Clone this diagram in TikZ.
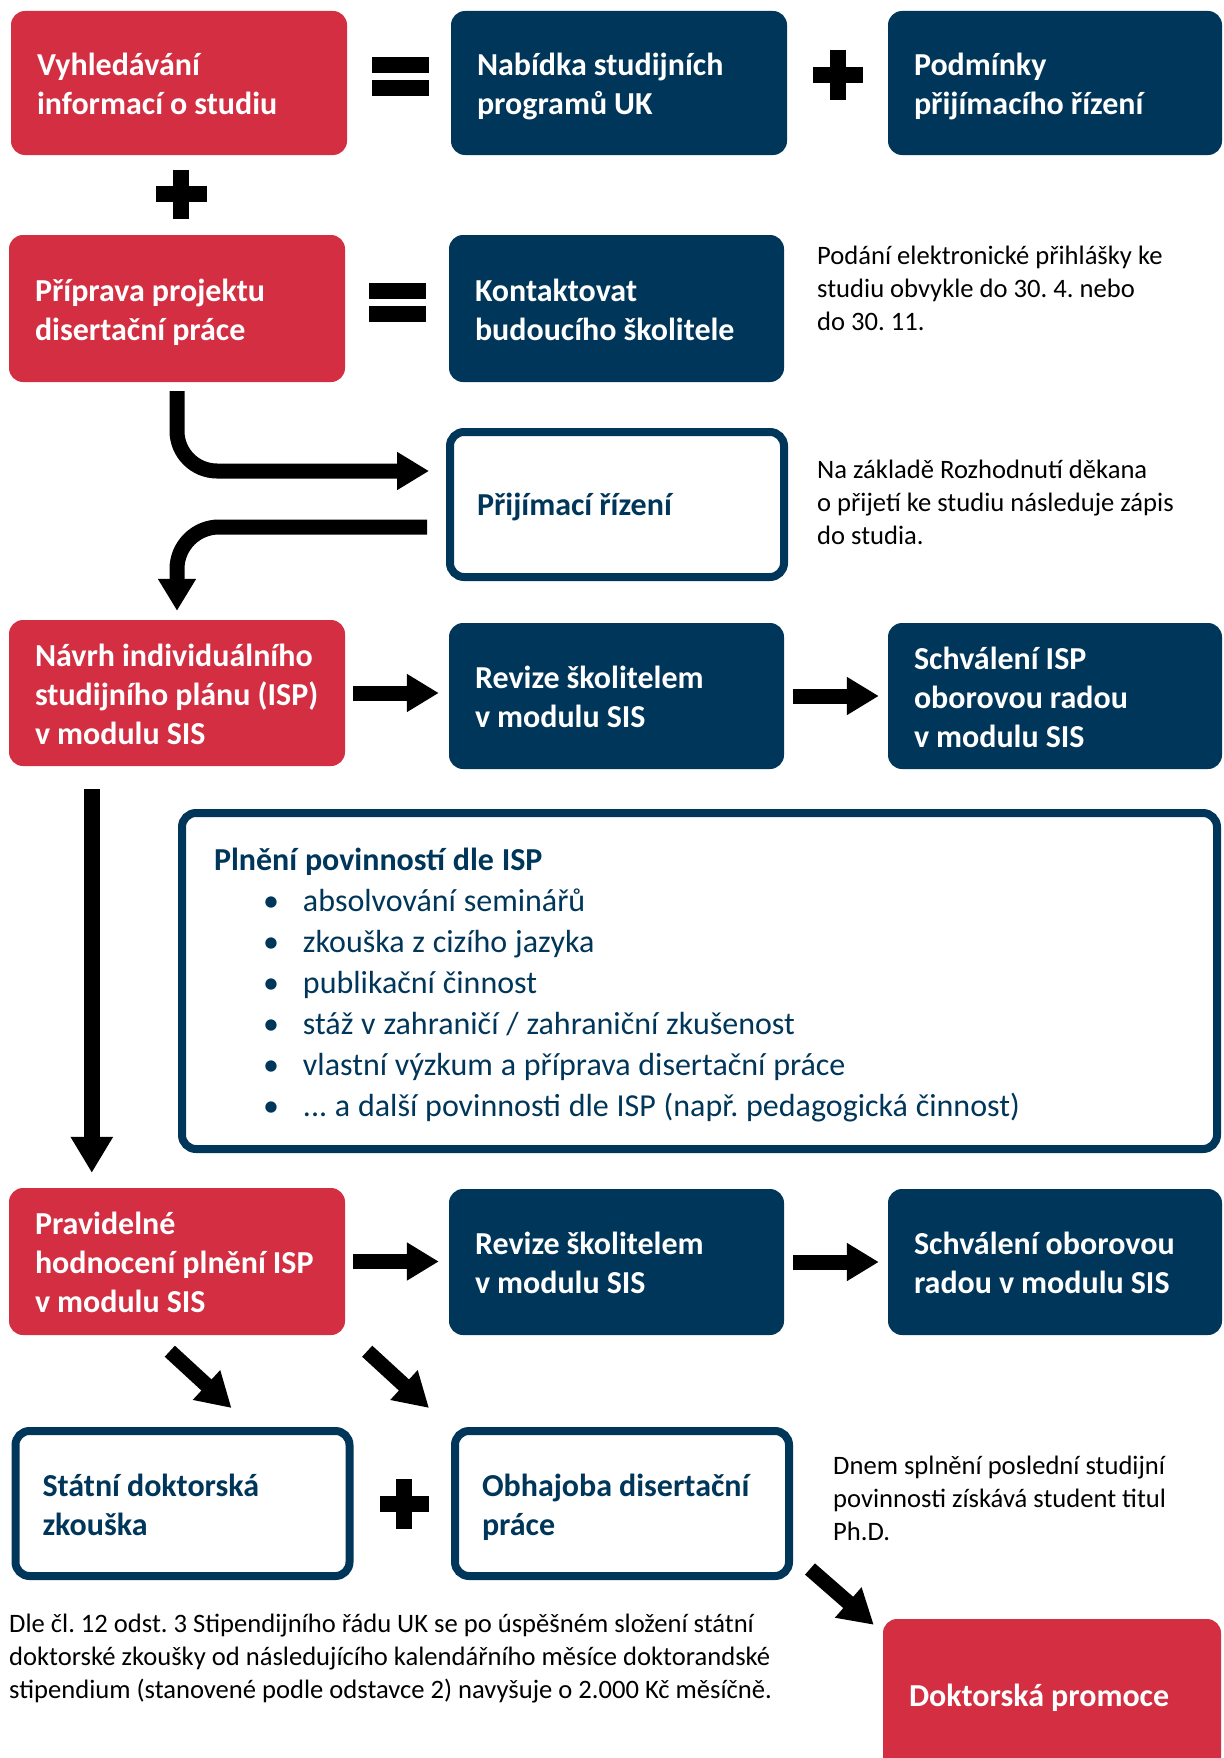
\documentclass[tikz,border=0pt]{standalone}
\usepackage{fontspec}
\setmainfont{Carlito}
\usetikzlibrary{arrows.meta,calc}
\definecolor{ured}{RGB}{211,46,65}
\definecolor{unavy}{RGB}{0,54,90}
\newcommand\ispitem[1]{\hspace*{49pt}\makebox[40pt][l]{\textbullet}#1}
\newcommand\topstrut{\rule{0pt}{31.8pt}}
\newcommand\botstrut{\rule[-7.2pt]{0pt}{7.2pt}}
\newcommand\boxspace{\spaceskip=7pt plus 2pt minus 1pt\relax}
\newcommand\listspace{\spaceskip=7.8pt plus 2pt minus 1pt\relax}
\begin{document}
\frenchspacing
\begin{tikzpicture}[x=1pt,y=-1pt,
  boxbase/.style={rounded corners=14pt, align=left, inner xsep=26pt, inner ysep=0pt,
    font=\fontsize{32}{39}\selectfont\bfseries,
    execute at begin node=\boxspace\topstrut, execute at end node=\botstrut},
  onestrut/.style={execute at begin node=\boxspace\rule{0pt}{29.5pt}, execute at end node=\rule[-9.5pt]{0pt}{9.5pt}},
  redbox/.style={boxbase, fill=ured, text=white, text width=#1},
  redbox/.default=284pt,
  navybox/.style={boxbase, fill=unavy, text=white, text width=#1},
  navybox/.default=283pt,
  whitebox/.style={boxbase, draw=unavy, line width=8pt, fill=white, text=unavy, inner xsep=27pt, text width=#1},
  whitebox/.default=280pt,
  notetext/.style={anchor=north west, inner sep=0pt, align=left, text=black,
    font=\fontsize{26.6}{33}\selectfont, execute at begin node=\strut},
  blockarrow/.style={line width=15pt, draw=black, -{Triangle[length=32pt,width=36pt]}},
  symbolfill/.style={fill=black}
]
\useasboundingbox (0,0) rectangle (1223,1758);

% Row 1
\node[redbox, minimum height=144pt] (vyhl) at (179,83) {Vyhledávání\\informací o studiu};
\node[navybox=284pt, minimum height=144pt] (nab) at (619,83) {Nabídka studijních\\programů UK};
\node[navybox=282pt, minimum height=144pt] (podm) at (1055,83) {Podmínky\\přijímacího řízení};
\fill[symbolfill] (372,57) rectangle (429,73);
\fill[symbolfill] (372,80) rectangle (429,96);
\fill[symbolfill] (830,50) rectangle (846,100);
\fill[symbolfill] (813,67) rectangle (863,83);
\fill[symbolfill] (173,170) rectangle (189,219);
\fill[symbolfill] (156,186) rectangle (207,202);

% Row 2
\node[redbox, minimum height=147pt] (prip) at (177,308.5) {Příprava projektu\\disertační práce};
\node[navybox, minimum height=147pt] (kont) at (616.5,308.5) {Kontaktovat\\budoucího školitele};
\fill[symbolfill] (369,283) rectangle (426,299);
\fill[symbolfill] (369,306) rectangle (426,322);
\node[notetext] (note1) at (817,245.5) {Podání elektronické přihlášky ke\\studiu obvykle do 30. 4. nebo\\do 30. 11.};

% Prijimaci rizeni
\node[whitebox, onestrut, minimum height=145pt] (prij) at (617,504.5) {Přijímací řízení};
\node[notetext] (note2) at (817,459.5) {Na základě Rozhodnutí děkana\\o přijetí ke studiu následuje zápis\\do studia.};

% Row 3
\node[redbox, minimum height=146pt] (navrh) at (177,693) {Návrh individuálního\\studijního plánu (ISP)\\v modulu SIS};
\node[navybox, minimum height=146pt] (rev1) at (616.5,696) {Revize školitelem\\v modulu SIS};
\node[navybox=282pt, minimum height=146pt] (sch1) at (1055,696) {Schválení ISP\\oborovou radou\\v modulu SIS};

\draw[blockarrow, rounded corners=40pt, shorten <=9pt, shorten >=17pt]
  (prip.south) |- ($(prij.west)+(0,-33.5)$);
\draw[blockarrow, rounded corners=42pt, shorten <=19pt, shorten >=9pt]
  ($(prij.west)+(0,22.5)$) -| (navrh.north);
\draw[blockarrow, shorten <=8pt, shorten >=10pt] (navrh.east) -- (navrh.east -| rev1.west);
\draw[blockarrow, shorten <=9pt, shorten >=9pt] (rev1.east) -- (rev1.east -| sch1.west);

% ISP obligations
\node[whitebox=971pt, inner xsep=32pt, minimum height=336pt,
  font=\fontsize{32}{41}\selectfont, execute at begin node=\listspace\topstrut] (isp) at (699.5,981)
  {\textbf{Plnění povinností dle ISP}\\
   \ispitem{absolvování seminářů}\\
   \ispitem{zkouška z cizího jazyka}\\
   \ispitem{publikační činnost}\\
   \ispitem{stáž v zahraničí / zahraniční zkušenost}\\
   \ispitem{vlastní výzkum a příprava disertační práce}\\
   \ispitem{... a další povinnosti dle ISP (např. pedagogická činnost)}};

% Row 4
\node[redbox, minimum height=147pt] (prav) at (177,1261.5) {Pravidelné\\hodnocení plnění ISP\\v modulu SIS};
\node[navybox, minimum height=146pt] (rev2) at (616.5,1262) {Revize školitelem\\v modulu SIS};
\node[navybox=282pt, minimum height=146pt] (sch2) at (1055,1262) {Schválení oborovou\\radou v modulu SIS};
\draw[blockarrow, line width=16pt, -{Triangle[length=36pt,width=40pt]}, shorten <=23pt, shorten >=15pt]
  ($(navrh.south west)+(83,0)$) -- ($(prav.north west)+(83,0)$);
\draw[blockarrow, shorten <=8pt, shorten >=10pt] (prav.east) -- (prav.east -| rev2.west);
\draw[blockarrow, shorten <=9pt, shorten >=9pt] (rev2.east) -- (rev2.east -| sch2.west);

% Bottom boxes
\node[whitebox, minimum height=145pt] (stat) at (182.5,1503.5) {Státní doktorská\\zkouška};
\node[whitebox, minimum height=145pt] (obh) at (622,1503.5) {Obhajoba disertační\\práce};
\fill[symbolfill] (396,1479) rectangle (412,1529);
\fill[symbolfill] (380,1496) rectangle (429,1512);
\node[notetext] (note3) at (833,1455.5) {Dnem splnění poslední studijní\\povinnosti získává student titul\\Ph.D.};
\node[notetext] (note4) at (9,1614) {Dle čl. 12 odst. 3 Stipendijního řádu UK se po úspěšném složení státní\\doktorské zkoušky od následujícího kalendářního měsíce doktorandské\\stipendium (stanovené podle odstavce 2) navyšuje o 2.000 Kč měsíčně.};
\node[redbox=286pt, onestrut, minimum height=152pt] (prom) at (1052,1695) {Doktorská promoce};

\draw[blockarrow, -{Triangle[length=34pt,width=38pt]}] ($(prav.south west)+(161,16)$) -- ($(stat.north west)+(220,-19)$);
\draw[blockarrow, -{Triangle[length=34pt,width=38pt]}] ($(prav.south east)+(22,16)$) -- ($(obh.north west)+(-22,-19)$);
\draw[blockarrow, -{Triangle[length=34pt,width=38pt]}] ($(obh.south east)+(17,-11)$) -- ($(prom.north west)+(-9,6)$);
\end{tikzpicture}
\end{document}
